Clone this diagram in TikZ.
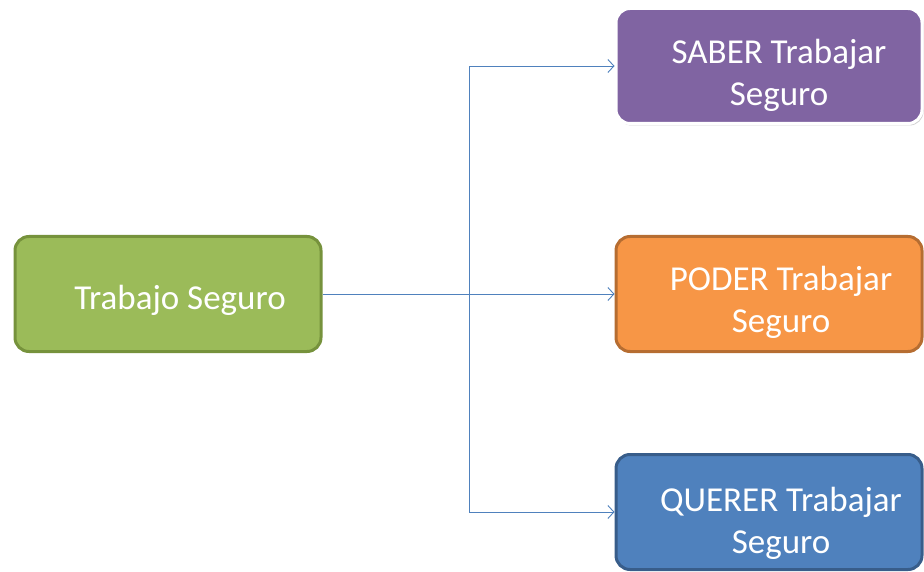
\documentclass[tikz,border=0pt]{standalone}
\usepackage{fontspec}
\setmainfont{Carlito}
\usetikzlibrary{arrows.meta,shadows}
\definecolor{gfill}{HTML}{9BBB59}
\definecolor{gdraw}{HTML}{76923C}
\definecolor{pfill}{HTML}{8064A2}
\definecolor{ofill}{HTML}{F79646}
\definecolor{odraw}{HTML}{B66D31}
\definecolor{bfill}{HTML}{4F81BD}
\definecolor{bdraw}{HTML}{385D8A}
\definecolor{conn}{HTML}{4F81BD}
\tikzset{
  box/.style={rectangle, rounded corners=14pt, line width=3pt, minimum width=306pt, minimum height=115pt, inner sep=0pt},
  lbl/.style={text=white, font=\fontsize{35}{42}\selectfont, align=center, inner sep=0pt},
  conn/.style={draw=conn, line width=0.9pt},
  arr/.style={conn, -{Straight Barb[length=6pt,width=13pt,line width=0.9pt]}}
}
\begin{document}
\begin{tikzpicture}[x=1pt,y=-1pt]
\useasboundingbox (0,0) rectangle (924,572);
\node[box, fill=gfill, draw=gdraw] (g) at (168,294) {};
\node[box, fill=pfill, draw=white, drop shadow={opacity=0.35, shadow xshift=1.5pt, shadow yshift=-2pt}] (p) at (769,66) {};
\node[box, fill=ofill, draw=odraw] (o) at (769,294) {};
\node[box, fill=bfill, draw=bdraw] (b) at (769,512) {};
\node[lbl] (gt) at (180,300) {Trabajo Seguro};
\node[lbl] (pt) at (779,75) {SABER Trabajar\\Seguro};
\node[lbl] (ot) at (781,302) {PODER Trabajar\\Seguro};
\node[lbl] (bt) at (781,523) {QUERER Trabajar\\Seguro};
\coordinate (j) at (469,294);
\draw[conn] (g.east) -- (j);
\draw[arr] (j) |- (p.west);
\draw[arr] (j) -- (o.west);
\draw[arr] (j) |- (b.west);
\end{tikzpicture}
\end{document}
